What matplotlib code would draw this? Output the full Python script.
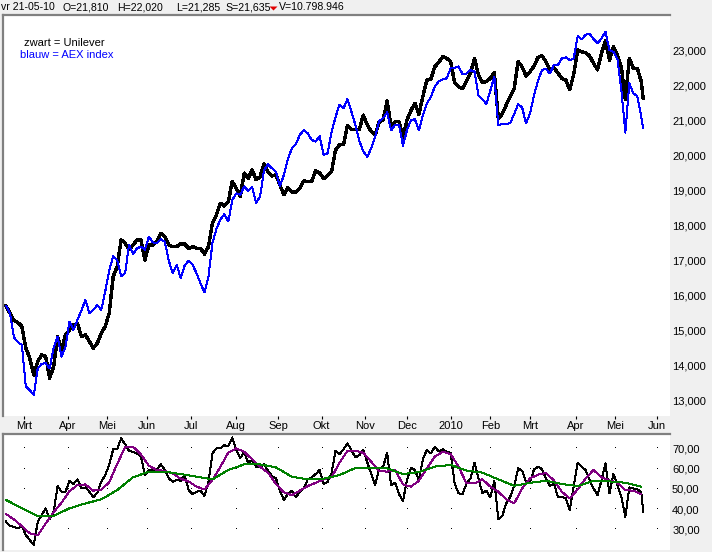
import numpy as np
import pandas as pd
import matplotlib
matplotlib.use("Agg")
import matplotlib.pyplot as plt
from matplotlib.ticker import FixedLocator, FuncFormatter
from matplotlib.patches import Polygon

plt.rcParams['font.family'] = ['Liberation Sans', 'DejaVu Sans']

# ---------------- data ----------------
holidays = ['2009-04-10', '2009-04-13', '2009-05-01', '2009-12-25',
            '2010-01-01', '2010-04-02', '2010-04-05']
first_day = '2009-02-17'
last_day = '2010-05-21'
axis_end = '2010-06-01'
month_labels = ['Mrt', 'Apr', 'Mei', 'Jun', 'Jul', 'Aug', 'Sep', 'Okt',
                'Nov', 'Dec', '2010', 'Feb', 'Mrt', 'Apr', 'Mei', 'Jun']

# Unilever close (every 2nd trading day, last point = final day)
unilever = [15.71, 15.50, 15.29, 15.23, 15.12, 14.50, 14.21, 13.73, 14.12, 14.31,
            14.26, 13.64, 13.97, 14.83, 14.45, 14.88, 15.02, 15.16, 15.21, 14.83,
            14.88, 14.69, 14.50, 14.64, 14.92, 15.12, 15.50, 16.54, 16.83, 17.59,
            17.50, 17.31, 17.45, 17.59, 17.59, 17.02, 17.45, 17.45, 17.54, 17.78,
            17.69, 17.45, 17.40, 17.40, 17.48, 17.48, 17.35, 17.40, 17.35, 17.35,
            17.19, 17.40, 18.07, 18.31, 18.64, 18.56, 18.69, 19.26, 19.07, 18.83,
            19.50, 19.35, 19.59, 19.31, 19.40, 19.76, 19.54, 19.42, 19.45, 19.16,
            18.88, 19.09, 18.96, 18.96, 19.07, 19.28, 19.26, 19.26, 19.57, 19.51,
            19.34, 19.43, 19.54, 20.16, 20.31, 20.31, 20.85, 20.75, 20.75, 20.75,
            21.16, 20.88, 20.69, 20.59, 20.97, 21.02, 21.57, 20.83, 20.97, 20.97,
            20.52, 21.02, 21.29, 21.50, 21.18, 21.69, 22.16, 22.18, 22.54, 22.67,
            22.83, 22.78, 22.69, 22.09, 21.97, 21.92, 22.14, 22.35, 22.78, 22.31,
            22.09, 22.12, 22.21, 22.37, 21.07, 21.19, 21.45, 21.69, 21.92, 22.69,
            22.54, 22.28, 22.40, 22.56, 22.81, 22.86, 22.69, 22.45, 22.51, 22.37,
            22.21, 22.16, 21.88, 22.33, 23.02, 22.97, 22.94, 22.85, 22.64, 22.45,
            22.93, 23.29, 22.73, 23.12, 22.88, 22.53, 21.60, 22.78, 22.50, 22.50,
            22.12, 21.64]

# AEX index, rescaled to the Unilever axis
aex = [15.71, 15.50, 14.81, 14.67, 14.59, 13.40, 13.30, 13.16, 13.92, 14.05,
       14.07, 13.92, 14.50, 14.83, 14.26, 14.54, 15.26, 15.02, 15.31, 15.57,
       15.88, 15.50, 15.59, 15.73, 15.59, 16.12, 16.72, 17.12, 17.02, 16.56,
       16.64, 17.45, 17.19, 17.35, 17.40, 17.31, 17.69, 17.52, 17.50, 17.61,
       17.54, 17.00, 16.64, 16.88, 16.50, 16.86, 17.00, 16.88, 16.64, 16.35,
       16.09, 16.54, 17.50, 17.90, 18.18, 18.33, 18.12, 18.73, 18.92, 18.88,
       19.12, 19.00, 19.10, 18.66, 18.83, 19.59, 19.75, 19.64, 19.54, 19.12,
       19.45, 19.90, 20.21, 20.33, 20.59, 20.73, 20.64, 20.45, 20.40, 20.56,
       20.02, 20.07, 20.67, 21.10, 21.46, 21.35, 21.62, 21.26, 20.88, 20.42,
       20.12, 19.97, 20.21, 20.54, 20.99, 21.07, 21.24, 20.72, 20.88, 20.88,
       20.28, 20.73, 21.02, 21.04, 20.72, 21.16, 21.50, 21.67, 21.97, 22.12,
       22.18, 22.21, 22.50, 22.51, 22.55, 22.33, 22.35, 22.45, 22.40, 21.73,
       21.61, 21.48, 21.86, 22.26, 20.88, 20.90, 20.91, 20.93, 21.19, 21.47,
       21.38, 20.92, 21.21, 21.73, 22.14, 22.45, 22.48, 22.35, 22.59, 22.59,
       22.78, 22.81, 22.73, 22.78, 23.42, 23.32, 23.46, 23.48, 23.33, 23.21,
       23.35, 23.54, 23.02, 22.97, 22.76, 21.88, 20.66, 22.07, 21.78, 21.71,
       21.12, 20.78]

# oscillator (every 2nd trading day, last point = final day)
rsi = [33.8, 31.6, 31.3, 30.5, 31.6, 27.2, 24.7, 22.2, 33.8, 37.1,
       40.4, 34.9, 38.7, 51.4, 48.6, 48.6, 54.0, 52.4, 54.7, 50.2,
       50.7, 48.6, 45.8, 48.1, 53.5, 56.8, 61.8, 69.5, 69.5, 74.9,
       72.1, 68.8, 68.3, 67.5, 65.9, 56.8, 59.3, 59.3, 59.6, 62.2,
       59.3, 55.2, 53.5, 54.4, 54.0, 56.8, 49.4, 47.4, 48.6, 49.1,
       46.5, 53.5, 67.5, 70.0, 70.0, 71.6, 71.1, 75.4, 69.2, 65.1,
       68.3, 62.9, 64.2, 60.9, 60.9, 62.2, 58.9, 56.3, 55.2, 49.1,
       44.5, 47.4, 49.1, 45.8, 48.6, 50.2, 54.7, 55.7, 57.3, 59.3,
       52.4, 53.5, 57.7, 68.8, 67.2, 69.5, 72.5, 69.2, 65.5, 66.7,
       69.2, 63.1, 57.3, 51.9, 60.1, 60.9, 67.8, 51.9, 53.0, 47.4,
       44.1, 54.3, 60.4, 59.3, 54.3, 64.6, 69.2, 67.5, 70.8, 68.6,
       69.5, 68.3, 67.8, 52.7, 47.8, 47.4, 52.7, 55.2, 62.9, 55.2,
       47.8, 49.1, 45.8, 54.0, 35.0, 36.6, 42.8, 46.1, 51.4, 60.1,
       59.0, 53.5, 53.5, 59.6, 60.9, 59.8, 55.2, 51.4, 52.7, 46.1,
       46.1, 45.3, 39.5, 51.1, 62.9, 60.9, 59.3, 54.3, 50.2, 46.9,
       54.3, 62.6, 47.8, 57.3, 51.9, 46.1, 36.2, 50.7, 50.2, 49.7,
       48.6, 38.5]

# short moving average (every 4th trading day)
ma_short = [37.6, 34.9, 31.6, 28.0, 27.0, 32.9, 38.5, 43.2, 48.9, 51.9,
            52.2, 49.1, 49.7, 53.2, 62.3, 70.5, 70.8, 67.0, 61.4, 59.3,
            58.9, 57.6, 55.0, 53.7, 51.1, 49.7, 54.4, 60.9, 67.9, 70.0,
            68.3, 64.6, 60.9, 58.0, 52.4, 48.3, 46.9, 49.1, 51.4, 53.0,
            54.7, 55.7, 62.9, 68.7, 68.8, 67.8, 63.4, 58.8, 58.5, 59.3,
            52.2, 51.1, 54.0, 60.1, 65.9, 68.3, 67.2, 60.9, 52.7, 52.7,
            54.7, 51.1, 48.6, 44.8, 42.8, 50.2, 55.2, 57.0, 57.8, 54.2,
            48.6, 45.3, 49.7, 55.2, 59.3, 55.7, 54.2, 53.0, 49.4, 49.1,
            47.4]

# long moving average (every 8th trading day)
ma_long = [44.5, 40.5, 36.6, 36.6, 40.4, 42.8, 44.8, 49.4, 55.7, 58.5,
           58.5, 57.3, 56.0, 54.7, 59.3, 62.1, 62.1, 60.6, 56.0, 54.7,
           55.0, 56.8, 60.3, 60.4, 60.1, 57.3, 58.3, 61.0, 61.8, 59.0,
           58.0, 54.7, 51.5, 53.0, 54.0, 52.4, 51.4, 54.0, 53.7, 53.0,
           51.1]

price_ticks = [13, 14, 15, 16, 17, 18, 19, 20, 21, 22, 23]
osc_ticks = [30, 40, 50, 60, 70]

# ---------------- calendar ----------------
days = pd.bdate_range(first_day, axis_end, freq='C', holidays=holidays)
last_i = days.get_loc(pd.Timestamp(last_day))
idx2 = np.r_[np.arange(0, last_i, 2), last_i][:len(unilever)]
idx4 = np.arange(0, 4 * len(ma_short), 4)
idx8 = np.arange(0, 8 * len(ma_long), 8)
month_pos = [i for i in range(1, len(days)) if days[i].month != days[i - 1].month]
month_pos = month_pos[:len(month_labels)]

# ---------------- figure ----------------
W, H = 712, 552
fig = plt.figure(figsize=(W / 100, H / 100), dpi=100)
fig.patch.set_facecolor('#f0f0f0')

def fx(px):
    return px / W

def fy(py):
    return 1 - py / H

ax = fig.add_axes([fx(3), fy(416), fx(670) - fx(3), fy(15) - fy(416)])
ax2 = fig.add_axes([fx(3), fy(550), fx(670) - fx(3), fy(434) - fy(550)])

grey = '#808080'
for a in (ax, ax2):
    a.set_facecolor('white')
    a.spines['right'].set_visible(False)
    a.spines['bottom'].set_visible(False)
    a.spines['left'].set_color(grey)
    a.spines['top'].set_color(grey)
    a.spines['left'].set_linewidth(1.6)
    a.spines['top'].set_linewidth(1.6)
    a.set_xlim(-1.5, 334.5)
    a.yaxis.tick_right()
    a.tick_params(axis='y', length=0, pad=1.5, labelsize=8, colors='black')

# main panel
ax.plot(idx2, unilever, color='black', lw=1.7, antialiased=False, zorder=2)
ax.plot(idx2, aex, color='#0000ff', lw=0.72, antialiased=False, zorder=3)
ax.set_ylim(12.56, 24.02)
ax.yaxis.set_major_locator(FixedLocator(price_ticks))
ax.yaxis.set_major_formatter(FuncFormatter(lambda v, p: f"{v:.3f}".replace('.', ',')))
ax.xaxis.set_major_locator(FixedLocator(month_pos))
ax.set_xticklabels(month_labels)
ax.tick_params(axis='x', direction='out', length=2.4, width=0.8, pad=1.2,
               labelsize=8, colors='black')

# oscillator panel
ax2.plot(idx2, rsi, color='black', lw=0.72, antialiased=False, zorder=2)
ax2.plot(idx4, ma_short, color='#800080', lw=0.72, antialiased=False, zorder=3)
ax2.plot(idx8, ma_long, color='#008000', lw=0.72, antialiased=False, zorder=4)
ax2.set_ylim(19.8, 77.1)
ax2.yaxis.set_major_locator(FixedLocator(osc_ticks))
ax2.yaxis.set_major_formatter(FuncFormatter(lambda v, p: f"{v:.2f}".replace('.', ',')))
ax2.set_xticks([])
gx, gy = np.meshgrid(month_pos, osc_ticks)
ax2.plot(gx.ravel(), gy.ravel(), linestyle='none', marker=',', color='black', zorder=1)

# header bar
hdr_y = fy(7)
hdr_fs = 7.6
fig.text(fx(1), hdr_y, 'vr 21-05-10', fontsize=hdr_fs, va='center', ha='left')
fig.text(fx(63), hdr_y, 'O=21,810', fontsize=hdr_fs, va='center', ha='left')
fig.text(fx(117), hdr_y, 'H=22,020', fontsize=hdr_fs, va='center', ha='left')
fig.text(fx(176), hdr_y, 'L=21,285', fontsize=hdr_fs, va='center', ha='left')
fig.text(fx(225), hdr_y, 'S=21,635', fontsize=hdr_fs, va='center', ha='left')
tri = Polygon([[fx(269.5), fy(6.5)], [fx(277.5), fy(6.5)], [fx(273.5), fy(10.5)]],
              closed=True, transform=fig.transFigure, facecolor='#e00000',
              edgecolor='none')
fig.add_artist(tri)
fig.text(fx(279), hdr_y, 'V=10.798.946', fontsize=hdr_fs, va='center', ha='left')

# legend text
fig.text(fx(24), fy(43), 'zwart = Unilever', fontsize=8, va='center', ha='left', color='black')
fig.text(fx(20), fy(55), 'blauw = AEX index', fontsize=8, va='center', ha='left', color='#0000ff')

fig.savefig('out.png', dpi=100, facecolor=fig.get_facecolor())
